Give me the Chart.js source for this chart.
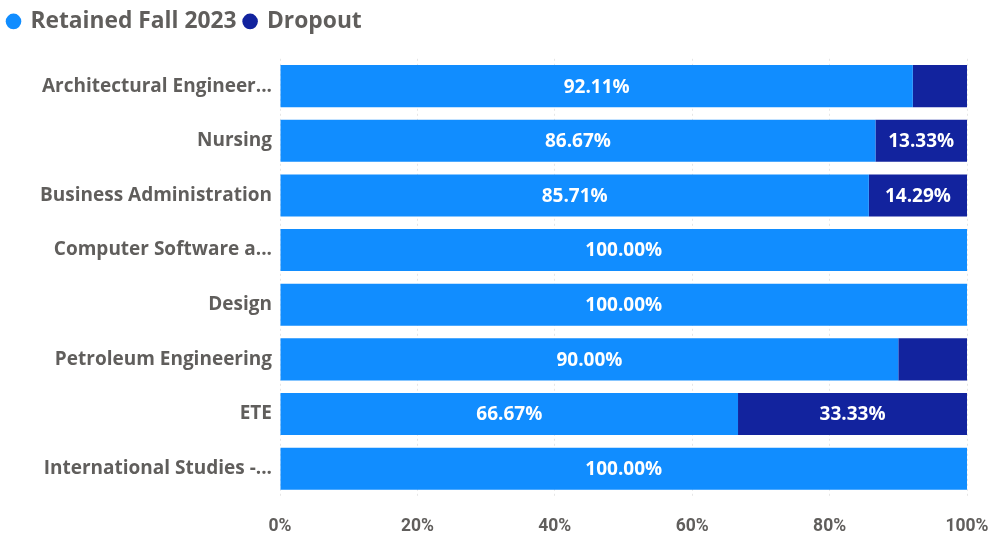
<!DOCTYPE html>
<html>
<head>
<meta charset="utf-8">
<script src="https://cdn.jsdelivr.net/npm/chart.js@4"></script>
<style>
  html, body { margin: 0; padding: 0; background: #fff; }
  #wrap { width: 989px; height: 538px; }
</style>
</head>
<body>
<div id="wrap"><canvas id="myChart"></canvas></div>
<script>
const programs = [
    'Architectural Engineer...',
    'Nursing',
    'Business Administration',
    'Computer Software a...',
    'Design',
    'Petroleum Engineering',
    'ETE',
    'International Studies -...'
];
const retained = [92.11, 86.67, 85.71, 100, 100, 90, 66.67, 100];
const dropout = [7.89, 13.33, 14.29, 0, 0, 10, 33.33, 0];
const xTicks = [0, 20, 40, 60, 80, 100];

const FONT = "'Open Sans', 'Noto Sans', sans-serif";
const TICK_FONT = "Roboto, 'Open Sans', sans-serif";
const GREY = '#605E5C';

// draws the % labels inside the segments (only when they fit)
const segmentLabels = {
    id: 'segmentLabels',
    afterDatasetsDraw(chart) {
        const ctx = chart.ctx;
        ctx.save();
        ctx.font = 'bold 19px ' + FONT;
        ctx.fillStyle = '#fff';
        ctx.textAlign = 'center';
        ctx.textBaseline = 'middle';
        chart.data.datasets.forEach((ds, i) => {
            chart.getDatasetMeta(i).data.forEach((bar, j) => {
                const v = ds.data[j];
                if (!v) return;
                const text = v.toFixed(2) + '%';
                const w = Math.abs(bar.x - bar.base);
                if (ctx.measureText(text).width + 10 > w) return;
                ctx.fillText(text, (bar.x + bar.base) / 2, bar.y + 1);
            });
        });
        ctx.restore();
    }
};

// extra space between legend and plot
const legendGap = {
    id: 'legendGap',
    beforeInit(chart) {
        const fit = chart.legend.fit;
        chart.legend.fit = function () {
            fit.bind(chart.legend)();
            this.height += 16;
        };
    }
};

const ctx = document.getElementById('myChart');

new Chart(ctx, {
    type: 'bar',
    data: {
        labels: programs,
        datasets: [{
            label: 'Retained Fall 2023',
            data: retained,
            backgroundColor: '#118DFF',
            barPercentage: 0.77,
            categoryPercentage: 1
        }, {
            label: 'Dropout',
            data: dropout,
            backgroundColor: '#12239E',
            barPercentage: 0.77,
            categoryPercentage: 1
        }]
    },
    options: {
        responsive: true,
        maintainAspectRatio: false,
        animation: false,
        indexAxis: 'y',
        layout: {
            padding: { left: 0, right: 0, top: 2, bottom: 0 }
        },
        plugins: {
            legend: {
                position: 'top',
                align: 'start',
                labels: {
                    usePointStyle: true,
                    pointStyle: 'circle',
                    boxWidth: 11,
                    boxHeight: 11,
                    padding: 8,
                    color: GREY,
                    font: { family: FONT, size: 22.8, weight: 'bold' }
                }
            },
            tooltip: { enabled: false }
        },
        scales: {
            x: {
                stacked: true,
                min: 0,
                max: 100,
                afterBuildTicks: (s) => { s.ticks = xTicks.map(v => ({ value: v })); },
                afterFit: (s) => { s.height = 42; s.paddingRight = 22; },
                grid: {
                    color: '#e6e6e6',
                    lineWidth: 1,
                    drawTicks: false
                },
                border: { display: false, dash: [2, 3] },
                ticks: {
                    padding: 20,
                    color: GREY,
                    font: { family: TICK_FONT, size: 17.5, weight: 'bold' },
                    callback: (v) => v + '%'
                }
            },
            y: {
                stacked: true,
                afterFit: (s) => { s.width = 280; },
                border: { display: false },
                grid: { display: false },
                ticks: {
                    padding: 0,
                    color: GREY,
                    font: { family: FONT, size: 19, weight: 'bold' }
                }
            }
        }
    },
    plugins: [segmentLabels, legendGap]
});
</script>
</body>
</html>
